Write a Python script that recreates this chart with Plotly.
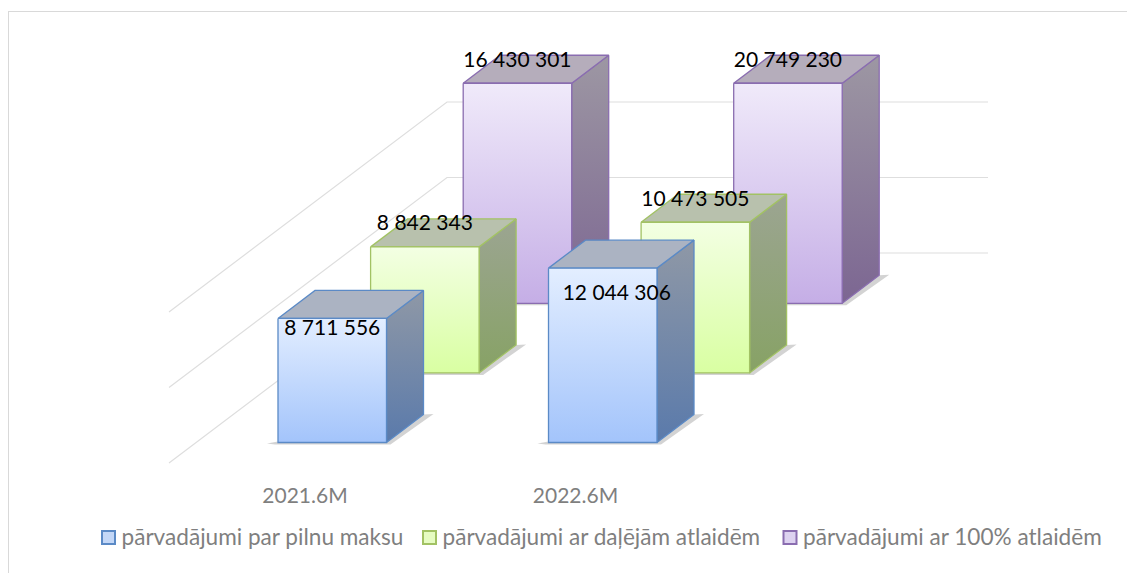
import plotly.graph_objects as go

# ---- data ----
categories = ["2021.6M", "2022.6M"]
series_names = ["pārvadājumi par pilnu maksu", "pārvadājumi ar daļējām atlaidēm", "pārvadājumi ar 100% atlaidēm"]
full_fare = [8711556, 12044306]
partial_discount = [8842343, 10473505]
free_fare = [16430301, 20749230]
grid_values = [0, 5000000, 10000000]
axis_clip = 15070000

series_values = [full_fare, partial_discount, free_fare]

# ---- projection of the 3D chart onto the page ----
W, H = 1135, 573
PAGE_MARGIN = 8  # the default body margin of the written page
FLOOR_Y, FRONT_X = 442.5, 278.0
CAT_STEP, SER_DX, SER_DY = 270.5, 92.6, 69.6
BAR_W, DEPTH_X, DEPTH_Y = 108.5, 37.0, 28.0
PX_PER_UNIT = 15.1 / 1e6
BASE_INSET = 7.5
GRID_FRONT = (169.0, 463.0)
GRID_CORNER = (447.0, 253.0)
GRID_END_X = 988.0

front_tops = ["#e3eeff", "#f3ffe3", "#f0eafa"]
front_bots = ["#a3c4fb", "#d9ffa2", "#c5aee6"]
side_tops = ["#8f98a6", "#9ca592", "#9d97a3"]
side_bots = ["#5a7aab", "#87a265", "#7c6692"]
top_cols = ["#abb3c2", "#b8c1ad", "#b5adbb"]
edges = ["#5b8ac6", "#a2c264", "#8a6db0"]
label_offsets = [[(0, 11), (14, 27)], [(0, -22.5), (0, -22)], [(0, -21), (0, -21)]]

fig = go.Figure()


def grad(c_top, c_bot):
    return dict(type="vertical", colorscale=[[0, c_bot], [1, c_top]])


def poly(xs, ys, line=None, gradient=None, color=None):
    kw = dict(x=xs + xs[:1], y=ys + ys[:1], mode="lines", fill="toself", hoverinfo="skip", showlegend=False)
    kw["line"] = dict(color=line, width=1.3) if line else dict(width=0)
    if gradient:
        kw["fillgradient"] = gradient
    else:
        kw["fillcolor"] = color
    fig.add_trace(go.Scatter(**kw))


# gridlines
for g in grid_values:
    d = g * PX_PER_UNIT
    fig.add_trace(go.Scatter(
        x=[GRID_FRONT[0], GRID_CORNER[0], GRID_END_X],
        y=[GRID_FRONT[1] - d, GRID_CORNER[1] - d, GRID_CORNER[1] - d],
        mode="lines", line=dict(color="#dedede", width=1.2), hoverinfo="skip", showlegend=False))

# bars, back series first
for s in [2, 1, 0]:
    for c, v in enumerate(series_values[s]):
        xl = FRONT_X + c * CAT_STEP + s * SER_DX
        xr = xl + BAR_W
        yb = FLOOR_Y - s * SER_DY
        yt = yb - (min(v, axis_clip) * PX_PER_UNIT - BASE_INSET)
        # soft floor shadow
        poly([xl - 11, xl, xr, xr + DEPTH_X, xr + DEPTH_X + 10, xr + 4, xl - 3],
             [yb + 1, yb - 1, yb, yb - DEPTH_Y, yb - DEPTH_Y - 0.5, yb + 2, yb + 2],
             color="rgba(120,120,120,0.33)")
        # side
        poly([xr, xr + DEPTH_X, xr + DEPTH_X, xr], [yt, yt - DEPTH_Y, yb - DEPTH_Y, yb],
             line=edges[s], gradient=grad(side_tops[s], side_bots[s]))
        # top
        poly([xl, xl + DEPTH_X, xr + DEPTH_X, xr], [yt, yt - DEPTH_Y, yt - DEPTH_Y, yt],
             line=edges[s], color=top_cols[s])
        # front
        poly([xl, xr, xr, xl], [yt, yt, yb, yb],
             line=edges[s], gradient=grad(front_tops[s], front_bots[s]))

# data labels
for s in [2, 1, 0]:
    for c, v in enumerate(series_values[s]):
        xl = FRONT_X + c * CAT_STEP + s * SER_DX
        yb = FLOOR_Y - s * SER_DY
        yt = yb - (min(v, axis_clip) * PX_PER_UNIT - BASE_INSET)
        dx, dy = label_offsets[s][c]
        fig.add_trace(go.Scatter(
            x=[xl + BAR_W / 2 + dx], y=[yt + dy], mode="text",
            text=[f"{v:,}".replace(",", " ")], textposition="middle center",
            textfont=dict(family="Lato", size=21, color="#000000"),
            hoverinfo="skip", showlegend=False))

# category labels
fig.add_trace(go.Scatter(
    x=[FRONT_X + 27 + c * CAT_STEP for c in range(len(categories))], y=[497.5] * len(categories),
    mode="text", text=categories, textposition="middle center",
    textfont=dict(family="Lato", size=21, color="#7f7f7f"), hoverinfo="skip", showlegend=False))

# legend
legend_x = [108.5, 429.5, 790.0]
legend_fill = ["#c3d7f7", "#e6fcc2", "#ddd2f0"]
for i, name in enumerate(series_names):
    fig.add_trace(go.Scatter(
        x=[legend_x[i]], y=[537.5], mode="markers",
        marker=dict(symbol="square", size=13, color=legend_fill[i], line=dict(color=edges[i], width=2)),
        hoverinfo="skip", showlegend=False))
    fig.add_trace(go.Scatter(
        x=[legend_x[i] + 13], y=[539.5], mode="text", text=[name], textposition="middle right",
        textfont=dict(family="Lato", size=22.6, color="#7f7f7f"), hoverinfo="skip", showlegend=False))

fig.update_layout(
    width=W - PAGE_MARGIN, height=H - PAGE_MARGIN, margin=dict(l=0, r=0, t=0, b=0),
    paper_bgcolor="white", plot_bgcolor="white", showlegend=False,
    xaxis=dict(range=[PAGE_MARGIN, W], visible=False, fixedrange=True),
    yaxis=dict(range=[H, PAGE_MARGIN], visible=False, fixedrange=True),
    shapes=[
        dict(type="line", xref="x", yref="y", x0=8, x1=W, y0=11.5, y1=11.5, line=dict(color="#d9d9d9", width=1)),
        dict(type="line", xref="x", yref="y", x0=8.5, x1=8.5, y0=11, y1=H, line=dict(color="#d9d9d9", width=1)),
    ],
)
fig.write_html("out.html", config=dict(displayModeBar=False))
